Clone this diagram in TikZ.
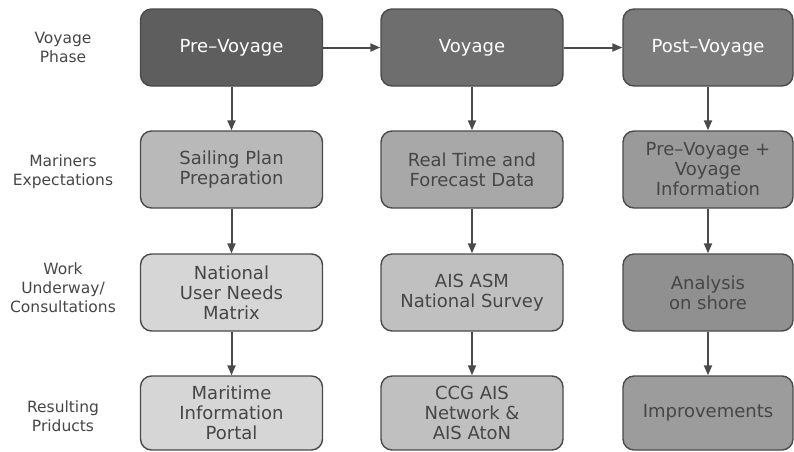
\documentclass[tikz,border=0pt]{standalone}
\usepackage{fontspec}
\setmainfont{DejaVu Sans}
\usetikzlibrary{arrows.meta,positioning,shapes,calc}
\definecolor{edgegray}{RGB}{74,74,74}
\definecolor{textgray}{RGB}{70,70,70}
\definecolor{phasea}{RGB}{94,94,94}
\definecolor{phaseb}{RGB}{110,110,110}
\definecolor{phasec}{RGB}{124,124,124}
\definecolor{expecta}{RGB}{185,185,185}
\definecolor{expectb}{RGB}{168,168,168}
\definecolor{expectc}{RGB}{154,154,154}
\definecolor{worka}{RGB}{214,214,214}
\definecolor{workb}{RGB}{192,192,192}
\definecolor{workc}{RGB}{144,144,144}
\definecolor{resultc}{RGB}{156,156,156}

\begin{document}
\begin{tikzpicture}[x=1pt, y=1pt,
    block/.style={rectangle, draw=edgegray, line width=1.4pt, rounded corners=11pt, minimum height=77pt, minimum width=182pt, inner sep=0pt, text centered, align=center, text=textgray, font=\fontsize{18}{20}\selectfont},
    rowlabel/.style={align=center, text=textgray, font=\fontsize{15.5}{19}\selectfont},
    flow/.style={-{Triangle[length=10pt,width=8pt]}, line width=2pt, draw=edgegray}]

\useasboundingbox (0,0) rectangle (794,-451);

\node[block, fill=phasea, text=white] (pre) at (231.5,-47.5) {Pre–Voyage};
\node[block, fill=phaseb, text=white] (voy) at (472,-47.5) {Voyage};
\node[block, fill=phasec, text=white, minimum width=170pt] (post) at (708,-47.5) {Post–Voyage};

\node[block, fill=expecta] (sail) at (231.5,-169.5) {Sailing Plan\\Preparation};
\node[block, fill=expectb] (forecast) at (472,-169.5) {Real Time and\\Forecast Data};
\node[block, fill=expectc, minimum width=170pt] (info) at (708,-169.5) {Pre–Voyage +\\Voyage\\Information};

\node[block, fill=worka] (needs) at (231.5,-292.5) {National\\User Needs\\Matrix};
\node[block, fill=workb] (survey) at (472,-292.5) {AIS ASM\\National Survey};
\node[block, fill=workc, minimum width=170pt] (shore) at (708,-292.5) {Analysis\\on shore};

\node[block, fill=worka, minimum height=74pt] (portal) at (231.5,-413) {Maritime\\Information\\Portal};
\node[block, fill=workb, minimum height=74pt] (aton) at (472,-413) {CCG AIS\\Network \&\\AIS AtoN};
\node[block, fill=resultc, minimum height=74pt, minimum width=170pt] (improve) at (708,-413) {Improvements};

\node[rowlabel] (phaselbl) at (63,-47.5) {Voyage\\Phase};
\node[rowlabel] (expectlbl) at (63,-171.5) {Mariners\\Expectations};
\node[rowlabel] (worklbl) at (63,-288) {Work\\Underway/\\Consultations};
\node[rowlabel] (resultlbl) at (63,-416) {Resulting\\Priducts};

\draw[flow] (pre) -- (voy);
\draw[flow] (voy) -- (post);

\draw[flow] (pre) -- (sail);
\draw[flow] (sail) -- (needs);
\draw[flow] (needs) -- (portal);
\draw[flow] (voy) -- (forecast);
\draw[flow] (forecast) -- (survey);
\draw[flow] (survey) -- (aton);
\draw[flow] (post) -- (info);
\draw[flow] (info) -- (shore);
\draw[flow] (shore) -- (improve);

\end{tikzpicture}
\end{document}
